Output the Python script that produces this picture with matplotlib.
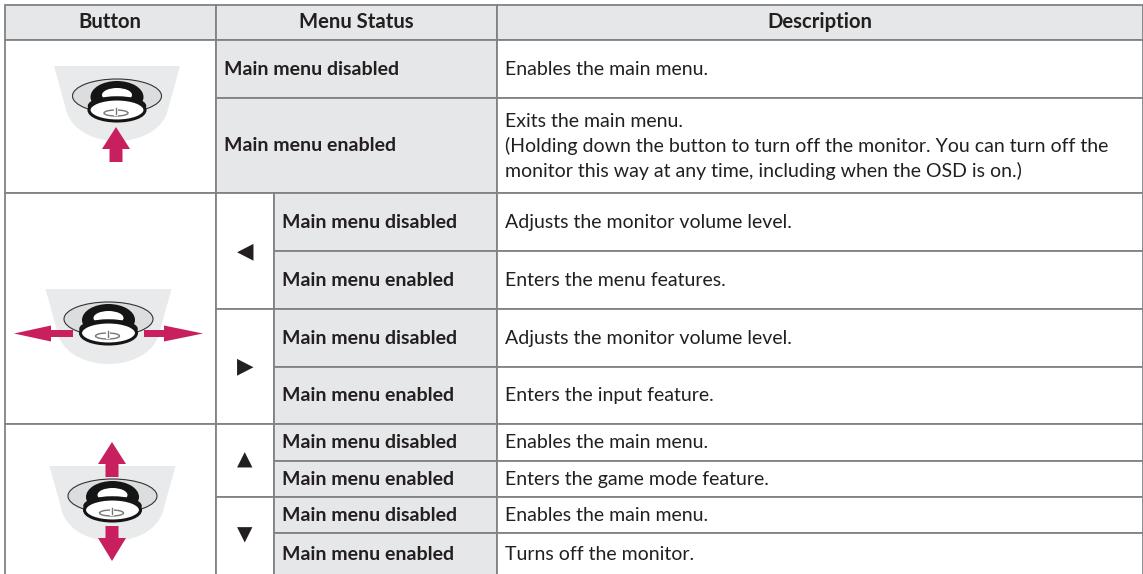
import matplotlib
matplotlib.use('Agg')
import matplotlib.pyplot as plt
from matplotlib.patches import Ellipse, PathPatch, Polygon, Rectangle
from matplotlib.path import Path

plt.rcParams['font.family'] = ['Lato', 'DejaVu Sans']

# table contents
headers = ['Button', 'Menu Status', 'Description']
top_status = ['Main menu disabled', 'Main menu enabled']
top_desc = ['Enables the main menu.',
            'Exits the main menu.\n(Holding down the button to turn off the monitor. You can turn off the\n'
            'monitor this way at any time, including when the OSD is on.)']
arrows = ['◀', '▶', '▲', '▼']
sub_status = ['Main menu disabled', 'Main menu enabled'] * 4
sub_desc = ['Adjusts the monitor volume level.', 'Enters the menu features.',
            'Adjusts the monitor volume level.', 'Enters the input feature.',
            'Enables the main menu.', 'Enters the game mode feature.',
            'Enables the main menu.', 'Turns off the monitor.']

# grid lines in pixels
X0, X1, X2, X3, X4 = 4.5, 215.5, 274, 497, 1143
Y_HEAD = (5, 40)
Y_TOP = [40, 97.5, 193]
Y_SUB = [193, 251, 309, 366.5, 424, 461, 496.5, 533, 574]

GREY = '#e6e7e8'
LINE = '#808285'
PINK = '#c8205f'
TEXT = '#231f20'
FS = 14
FS_HEAD = 14.6
DY = 0.5

fig = plt.figure(figsize=(11.43, 5.74), dpi=100)
ax = fig.add_axes([0, 0, 1, 1])
ax.set_xlim(0, 1143)
ax.set_ylim(574, 0)
ax.axis('off')


def cell(x0, y0, x1, y1, fill='white'):
    ax.add_patch(Rectangle((x0, y0), x1 - x0, y1 - y0, facecolor=fill,
                           edgecolor=LINE, linewidth=1.3, zorder=1))


def knob(cx, cy):
    # cx, cy = middle of the oval
    verts = [(cx - 63, cy - 30), (cx + 63, cy - 30), (cx + 50, cy + 17),
             (cx + 42, cy + 38), (cx + 18, cy + 45), (cx, cy + 45),
             (cx - 18, cy + 45), (cx - 42, cy + 38), (cx - 50, cy + 17),
             (cx - 63, cy - 30)]
    codes = [Path.MOVETO, Path.LINETO, Path.LINETO,
             Path.CURVE4, Path.CURVE4, Path.CURVE4,
             Path.CURVE4, Path.CURVE4, Path.CURVE4,
             Path.LINETO]
    ax.add_patch(PathPatch(Path(verts, codes), facecolor='#e9eaeb', edgecolor='none', zorder=2))
    ax.add_patch(Ellipse((cx, cy), 89, 34, facecolor='#dcddde', edgecolor='#333333', linewidth=0.8, zorder=3))
    # dark cap with its highlight
    ax.add_patch(Ellipse((cx, cy + 1), 53, 32, facecolor='#151515', edgecolor='none', zorder=4))
    ax.add_patch(Ellipse((cx, cy - 1), 30, 14, facecolor='white', edgecolor='none', zorder=5))
    ax.add_patch(Rectangle((cx - 22, cy + 2), 44, 8, facecolor='#151515', edgecolor='none', zorder=5))
    # rim and face
    ax.add_patch(Ellipse((cx, cy + 10), 56, 17, facecolor='white', edgecolor='#151515', linewidth=1.8, zorder=6))
    ax.add_patch(Ellipse((cx, cy + 14), 56, 22, facecolor='white', edgecolor='#151515', linewidth=2.2, zorder=7))
    ax.add_patch(Ellipse((cx - 1, cy + 17), 24, 6, facecolor='none', edgecolor='#777777', linewidth=1, zorder=8))
    ax.add_patch(Rectangle((cx - 3, cy + 11), 4, 9, facecolor='white', edgecolor='none', zorder=9))
    ax.plot([cx - 1, cx - 1], [cy + 12, cy + 18], color='#777777', linewidth=1, zorder=10)


def arrow(tip, direction, length=13, head=22, half_head=14, half_shaft=6.5):
    dx, dy = direction
    px, py = -dy, dx
    tx, ty = tip
    base = (tx - dx * head, ty - dy * head)
    end = (tx - dx * (head + length), ty - dy * (head + length))
    pts = [tip,
           (base[0] + px * half_head, base[1] + py * half_head),
           (base[0] + px * half_shaft, base[1] + py * half_shaft),
           (end[0] + px * half_shaft, end[1] + py * half_shaft),
           (end[0] - px * half_shaft, end[1] - py * half_shaft),
           (base[0] - px * half_shaft, base[1] - py * half_shaft),
           (base[0] - px * half_head, base[1] - py * half_head)]
    ax.add_patch(Polygon(pts, closed=True, facecolor=PINK, edgecolor='none', zorder=11))


# header row
for x0, x1, label in zip([X0, X1, X3], [X1, X3, X4], headers):
    cell(x0, Y_HEAD[0], x1, Y_HEAD[1], GREY)
    ax.text((x0 + x1) / 2, 21.5 + DY, label, ha='center', va='center', fontsize=FS_HEAD,
            fontweight='bold', color=TEXT, zorder=12)

# button column
cell(X0, Y_TOP[0], X1, Y_TOP[2])
cell(X0, Y_SUB[0], X1, Y_SUB[4])
cell(X0, Y_SUB[4], X1, Y_SUB[8] + 5)

# two-level rows at the top
for i in range(2):
    cell(X1, Y_TOP[i], X3, Y_TOP[i + 1], GREY)
    cell(X3, Y_TOP[i], X4, Y_TOP[i + 1])
    mid = (Y_TOP[i] + Y_TOP[i + 1]) / 2 + DY
    ax.text(224, mid, top_status[i], ha='left', va='center', fontsize=FS,
            fontweight='bold', color=TEXT, zorder=12)
    ax.text(505, mid + 0.5, top_desc[i], ha='left', va='center', fontsize=FS,
            color=TEXT, linespacing=1.46, zorder=12)

# rows with a direction symbol
for i in range(4):
    y0, y1 = Y_SUB[i * 2], Y_SUB[i * 2 + 2]
    cell(X1, y0, X2, y1 + (5 if i == 3 else 0))
    ax.text((X1 + X2) / 2, (y0 + y1) / 2, arrows[i], ha='center', va='center',
            fontsize=15.5 if i < 2 else 14.5, color=TEXT, family=['DejaVu Sans'], zorder=12)
for i in range(8):
    y0, y1 = Y_SUB[i], Y_SUB[i + 1]
    cell(X2, y0, X3, y1 + (5 if i == 7 else 0), GREY)
    cell(X3, y0, X4, y1 + (5 if i == 7 else 0))
    mid = (y0 + y1) / 2 + DY
    ax.text(282, mid, sub_status[i], ha='left', va='center', fontsize=FS,
            fontweight='bold', color=TEXT, zorder=12)
    ax.text(505, mid, sub_desc[i], ha='left', va='center', fontsize=FS,
            color=TEXT, zorder=12)

# button drawings
knob(117, 96)
arrow((116, 127), (0, -1))

knob(108.5, 319)
arrow((14, 333.5), (-1, 0), length=22, head=37, half_head=8, half_shaft=3.5)
arrow((203, 333.5), (1, 0), length=20, head=39, half_head=8, half_shaft=3.5)

knob(112.5, 496)
arrow((112, 442), (0, -1))
arrow((112, 561), (0, 1), length=12, head=23)

plt.savefig('out.png', dpi=100)
